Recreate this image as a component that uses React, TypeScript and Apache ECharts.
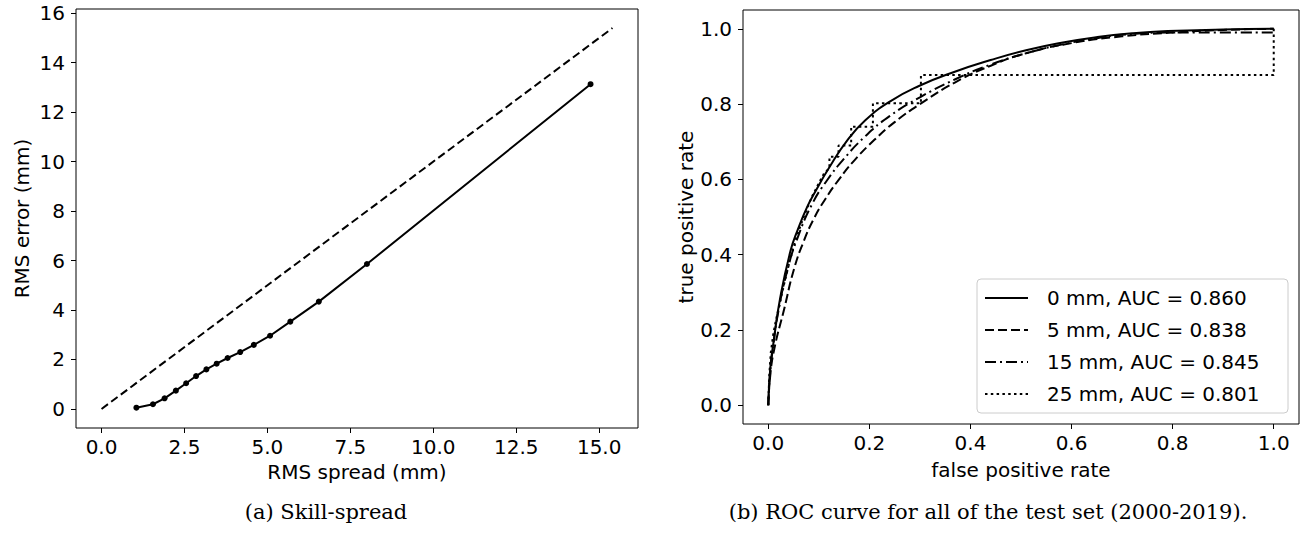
import React, { useEffect, useRef } from 'react';
import * as echarts from 'echarts';

// ---- Panel (a): skill-spread ----
const spreadX = [1.05, 1.55, 1.9, 2.24, 2.55, 2.85, 3.16, 3.47, 3.8, 4.18, 4.59, 5.08, 5.69, 6.55, 8.0, 14.74];
const errorY = [0.05, 0.19, 0.43, 0.74, 1.04, 1.33, 1.6, 1.83, 2.06, 2.3, 2.59, 2.96, 3.53, 4.34, 5.86, 13.13];
const perfectX = [0, 15.4];
const perfectY = [0, 15.4];
const leftXTicks = [0, 2.5, 5, 7.5, 10, 12.5, 15];
const leftYTicks = [0, 2, 4, 6, 8, 10, 12, 14, 16];

// ---- Panel (b): ROC ----
const rocNames = ['0 mm, AUC = 0.860', '5 mm, AUC = 0.838', '15 mm, AUC = 0.845', '25 mm, AUC = 0.801'];
const fpr0 = [0, 0.004, 0.011, 0.024, 0.044, 0.058, 0.077, 0.094, 0.12, 0.157, 0.192, 0.242, 0.298, 0.369, 0.44, 0.51, 0.58, 0.651, 0.72, 0.79, 0.9, 1];
const tpr0 = [0, 0.1, 0.173, 0.288, 0.41, 0.465, 0.527, 0.57, 0.63, 0.705, 0.757, 0.808, 0.848, 0.886, 0.917, 0.943, 0.963, 0.978, 0.988, 0.994, 0.998, 1];
const fpr5 = [0, 0.004, 0.012, 0.031, 0.051, 0.07, 0.09, 0.113, 0.14, 0.17, 0.21, 0.25, 0.3, 0.37, 0.44, 0.51, 0.6, 0.7, 0.8, 0.9, 1];
const tpr5 = [0, 0.08, 0.15, 0.253, 0.362, 0.435, 0.495, 0.548, 0.6, 0.65, 0.705, 0.752, 0.8, 0.858, 0.902, 0.935, 0.962, 0.98, 0.99, 0.997, 1];
const fpr15 = [0, 0.004, 0.01, 0.018, 0.038, 0.06, 0.087, 0.115, 0.15, 0.19, 0.24, 0.3, 0.37, 0.44, 0.51, 0.58, 0.65, 0.7, 0.8, 1];
const tpr15 = [0, 0.09, 0.16, 0.235, 0.36, 0.452, 0.535, 0.595, 0.655, 0.712, 0.768, 0.818, 0.866, 0.905, 0.935, 0.958, 0.975, 0.984, 0.99, 0.99];
const fpr25 = [0, 0.002, 0.005, 0.01, 0.015, 0.021, 0.031, 0.042, 0.054, 0.07, 0.085, 0.1, 0.11, 0.121, 0.121, 0.139, 0.139, 0.164, 0.164, 0.207, 0.207, 0.302, 0.302, 1, 1];
const tpr25 = [0, 0.08, 0.14, 0.19, 0.225, 0.26, 0.32, 0.38, 0.44, 0.5, 0.55, 0.59, 0.615, 0.63, 0.66, 0.66, 0.69, 0.69, 0.74, 0.74, 0.802, 0.802, 0.877, 0.877, 1];
const rocTicks = [0, 0.2, 0.4, 0.6, 0.8, 1.0];

const rocDashes: (number[] | null)[] = [null, [9, 4], [11, 4, 2, 4], [2.5, 3.3]];
const rocSmooth = [0.5, 0.5, 0.5, 0];

const FONT = 'DejaVu Sans';

const zip = (xs: number[], ys: number[]) => xs.map((x, i) => [x, ys[i]]);

function makeAxis(gridIndex: number, min: number, max: number, ticks: number[], fmt: (v: number) => string,
  isY: boolean, name: string, nameGap: number) {
  return {
    type: 'value',
    gridIndex,
    min,
    max,
    name,
    nameLocation: 'middle',
    nameGap,
    nameTextStyle: { color: '#000', fontSize: 20, fontFamily: FONT },
    splitLine: { show: false },
    axisLine: { show: false, onZero: false },
    axisTick: { show: true, inside: false, length: 5, customValues: ticks, lineStyle: { color: '#000', width: 1 } },
    axisLabel: {
      customValues: ticks,
      formatter: (v: number) => fmt(v),
      color: '#000',
      fontSize: 20,
      fontFamily: FONT,
      margin: isY ? 11 : 9,
    },
  };
}

export default function App() {
  const ref = useRef<HTMLDivElement>(null);
  useEffect(() => {
    document.body.style.margin = '0';
    const chart = echarts.init(ref.current!, null, { renderer: 'svg' });
    const f1 = (v: number) => v.toFixed(1);
    const f0 = (v: number) => String(v);

    const rocX = [fpr0, fpr5, fpr15, fpr25];
    const rocY = [tpr0, tpr5, tpr15, tpr25];

    const rocSeries = rocNames.map((n, i) => ({
      name: n,
      type: 'line',
      xAxisIndex: 1,
      yAxisIndex: 1,
      data: zip(rocX[i], rocY[i]),
      symbol: 'none',
      smooth: rocSmooth[i],
      lineStyle: { color: '#000', width: 2, type: rocDashes[i] ?? 'solid', cap: 'butt' },
    }));

    const legendRows = rocNames.map((n, i) => [
      {
        type: 'line',
        shape: { x1: 985, y1: 298 + i * 32, x2: 1028, y2: 298 + i * 32 },
        style: { stroke: '#000', lineWidth: 2, lineDash: rocDashes[i] ?? undefined },
        z: 101,
      },
      {
        type: 'text',
        x: 1047,
        y: 298 + i * 32,
        style: { text: n, fill: '#000', fontSize: 20, fontFamily: FONT, verticalAlign: 'middle', align: 'left' },
        z: 101,
      },
    ]).flat();

    chart.setOption({
      animation: false,
      backgroundColor: '#fff',
      grid: [
        { left: 76, top: 9, width: 562, height: 419, show: true, borderColor: '#000', borderWidth: 1, backgroundColor: 'transparent' },
        { left: 743, top: 10, width: 556, height: 414, show: true, borderColor: '#000', borderWidth: 1, backgroundColor: 'transparent' },
      ],
      xAxis: [
        makeAxis(0, -0.77, 16.17, leftXTicks, f1, false, 'RMS spread (mm)', 32),
        makeAxis(1, -0.05, 1.05, rocTicks, f1, false, 'false positive rate', 36),
      ],
      yAxis: [
        makeAxis(0, -0.77, 16.17, leftYTicks, f0, true, 'RMS error (mm)', 44),
        makeAxis(1, -0.05, 1.05, rocTicks, f1, true, 'true positive rate', 45),
      ],
      series: [
        {
          type: 'line',
          xAxisIndex: 0,
          yAxisIndex: 0,
          data: zip(spreadX, errorY),
          symbol: 'circle',
          symbolSize: 6,
          itemStyle: { color: '#000' },
          lineStyle: { color: '#000', width: 2 },
        },
        {
          type: 'line',
          xAxisIndex: 0,
          yAxisIndex: 0,
          data: zip(perfectX, perfectY),
          symbol: 'none',
          lineStyle: { color: '#000', width: 2, type: [8, 4], cap: 'butt' },
        },
        ...rocSeries,
      ],
      graphic: [
        {
          type: 'rect',
          shape: { x: 977, y: 279, width: 311, height: 134, r: 4 },
          style: { fill: 'rgba(255,255,255,0.8)', stroke: '#ccc', lineWidth: 1 },
          z: 100,
        },
        ...legendRows,
        {
          type: 'text',
          x: 326,
          y: 512,
          style: { text: '(a) Skill-spread', fill: '#000', fontSize: 21, fontFamily: 'DejaVu Serif', align: 'center', verticalAlign: 'middle' },
        },
        {
          type: 'text',
          x: 988,
          y: 512,
          style: { text: '(b) ROC curve for all of the test set (2000-2019).', fill: '#000', fontSize: 21, fontFamily: 'DejaVu Serif', align: 'center', verticalAlign: 'middle' },
        },
      ],
    });
    return () => chart.dispose();
  }, []);
  return <div ref={ref} style={{ position: 'absolute', left: 0, top: 0, width: 1305, height: 544 }} />;
}
